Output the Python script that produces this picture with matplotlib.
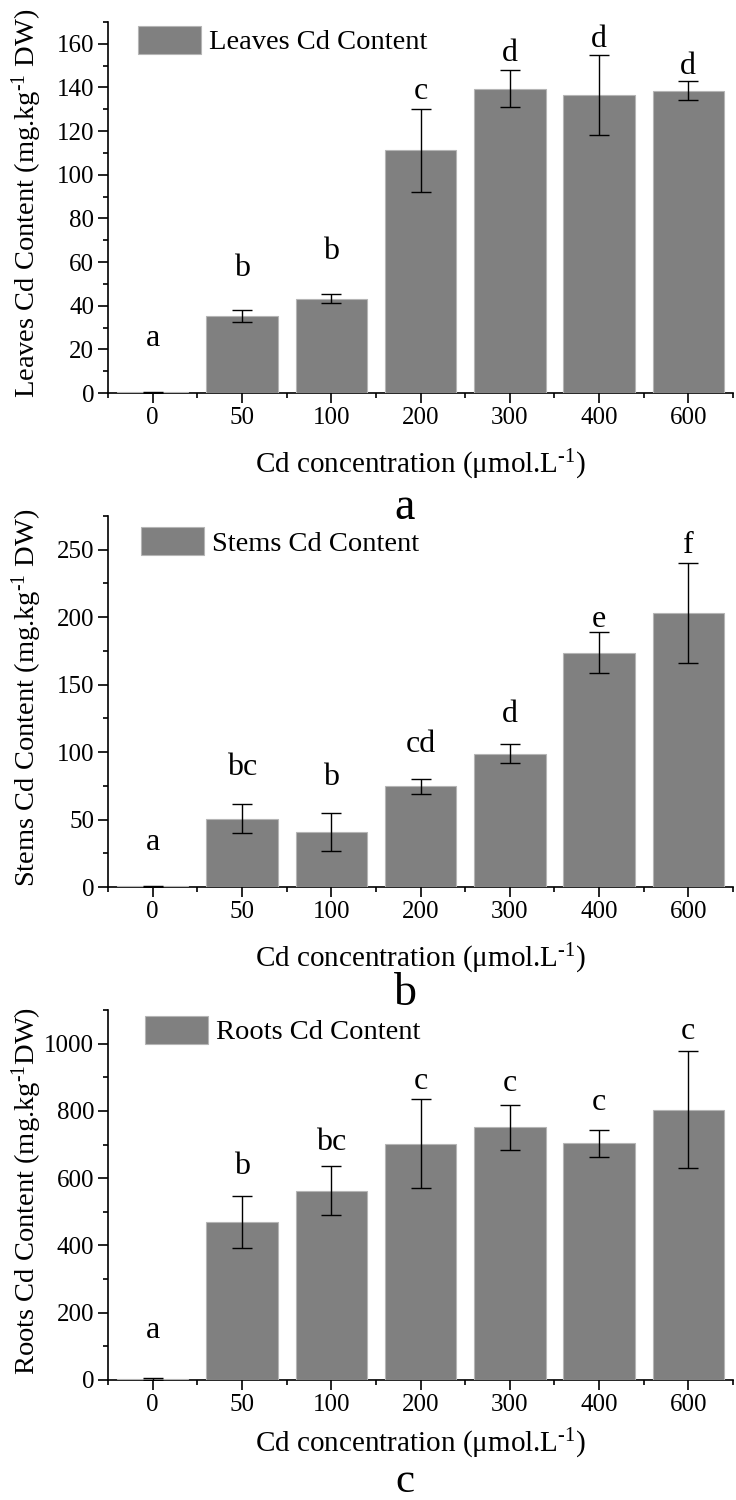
import matplotlib
matplotlib.use("Agg")
import matplotlib.pyplot as plt
from matplotlib.ticker import MultipleLocator, FixedLocator, NullFormatter
import numpy as np

plt.rcParams['font.family'] = ['Liberation Serif', 'DejaVu Serif']
plt.rcParams['mathtext.fontset'] = 'custom'
plt.rcParams['mathtext.rm'] = 'Liberation Serif'
plt.rcParams['mathtext.it'] = 'Liberation Serif'
plt.rcParams['mathtext.default'] = 'regular'

# ---------------- data ----------------
categories = ['0', '50', '100', '200', '300', '400', '600']

leaves_values = [0.4, 35.3, 43.2, 111.3, 139.5, 136.5, 138.6]
leaves_err = [0.2, 2.7, 2.0, 19.0, 8.4, 18.5, 4.5]
leaves_letters = ['a', 'b', 'b', 'c', 'd', 'd', 'd']
leaves_letter_y = [21.4, 53.6, 61.3, 134.8, 152.0, 158.5, 146.2]

stems_values = [0.6, 50.7, 40.8, 74.8, 98.8, 173.8, 202.8]
stems_err = [0.3, 10.5, 14.2, 5.5, 7.0, 15.2, 37.0]
stems_letters = ['a', 'bc', 'b', 'cd', 'd', 'e', 'f']
stems_letter_y = [27.2, 83.0, 75.5, 100.2, 122.5, 193.0, 247.5]

roots_values = [3, 470, 563, 703, 751, 704, 804]
roots_err = [2, 78, 73, 133, 67, 40, 174]
roots_letters = ['a', 'b', 'bc', 'c', 'c', 'c', 'c']
roots_letter_y = [124, 611, 685, 864, 859, 804, 1013]

panels = [
    dict(values=leaves_values, err=leaves_err, letters=leaves_letters, letter_y=leaves_letter_y,
         ylabel='Leaves Cd Content (mg.kg$^{\u2010 1}$ DW)', legend='Leaves Cd Content',
         ylim=170, major=20, minor=10, tag='a'),
    dict(values=stems_values, err=stems_err, letters=stems_letters, letter_y=stems_letter_y,
         ylabel='Stems Cd Content (mg.kg$^{\u2010 1}$ DW)', legend='Stems Cd Content',
         ylim=275, major=50, minor=25, tag='b'),
    dict(values=roots_values, err=roots_err, letters=roots_letters, letter_y=roots_letter_y,
         ylabel='Roots Cd Content (mg.kg$^{\u2010 1}$DW)', legend='Roots Cd Content',
         ylim=1100, major=200, minor=100, tag='c'),
]

# ---------------- layout ----------------
W, H = 736, 1500
fig = plt.figure(figsize=(W / 100, H / 100), dpi=100)

ax_px = [(108, 22, 393), (108, 516, 887), (108, 1010, 1380)]
legend_anchor = [(0.048, 0.99), (0.053, 0.97), (0.059, 0.985)]
xlabel_offset = [72, 72, 64]
tag_baseline = [519, 1005, 1492]
tag_size = [33, 33, 31]

bar_color = '#808080'
edge_color = '#b5b5b5'
x = np.arange(len(categories))

for i, p in enumerate(panels):
    left, top, bottom = ax_px[i]
    ax = fig.add_axes([left / W, 1 - bottom / H, (733 - left) / W, (bottom - top) / H])

    ax.bar(x, p['values'], width=0.8, color=bar_color, edgecolor=edge_color,
           linewidth=0.8, zorder=3, label=p['legend'])
    ax.errorbar(x, p['values'], yerr=p['err'], fmt='none', ecolor='black',
                elinewidth=1.0, capsize=7.5, capthick=1.0, zorder=4)

    for xi, lab, ly in zip(x, p['letters'], p['letter_y']):
        ax.text(xi, ly, lab, ha='center', va='baseline', fontsize=23, zorder=5)

    ax.set_xlim(-0.5, len(categories) - 0.5)
    ax.set_ylim(0, p['ylim'])

    for s in ['top', 'right']:
        ax.spines[s].set_visible(False)
    for s in ['left', 'bottom']:
        ax.spines[s].set_linewidth(1.2)
        ax.spines[s].set_zorder(2)

    ax.set_xticks(x)
    ax.set_xticklabels(categories)
    ax.xaxis.set_minor_locator(FixedLocator(np.arange(-0.5, len(categories), 1.0)))
    ax.yaxis.set_major_locator(MultipleLocator(p['major']))
    ax.yaxis.set_minor_locator(MultipleLocator(p['minor']))
    ax.yaxis.set_minor_formatter(NullFormatter())

    ax.tick_params(axis='both', which='major', direction='out', length=7.5, width=1.2,
                   labelsize=18, pad=2.5)
    ax.tick_params(axis='both', which='minor', direction='out', length=3.8, width=1.2)

    ax.set_ylabel(p['ylabel'], fontsize=20.5, va='center')
    ax.yaxis.set_label_coords(-0.13, 0.51)
    ax.set_xlabel('Cd concentration (μmol.L$^{\u2010 1}$)', fontsize=21, va='center')
    ax.xaxis.set_label_coords(0.5, -xlabel_offset[i] / (bottom - top))

    ax.legend(loc='upper left', bbox_to_anchor=legend_anchor[i], frameon=False,
              fontsize=20.5, handlelength=2.2, handleheight=1.15, handletextpad=0.3,
              borderaxespad=0, borderpad=0)

    # panel tag rendered via mathtext so its box hugs the glyph
    fig.text(405 / W, 1 - tag_baseline[i] / H, '$' + p['tag'] + '$', fontsize=tag_size[i],
             ha='center', va='baseline')

fig.savefig('out.png', dpi=100)
